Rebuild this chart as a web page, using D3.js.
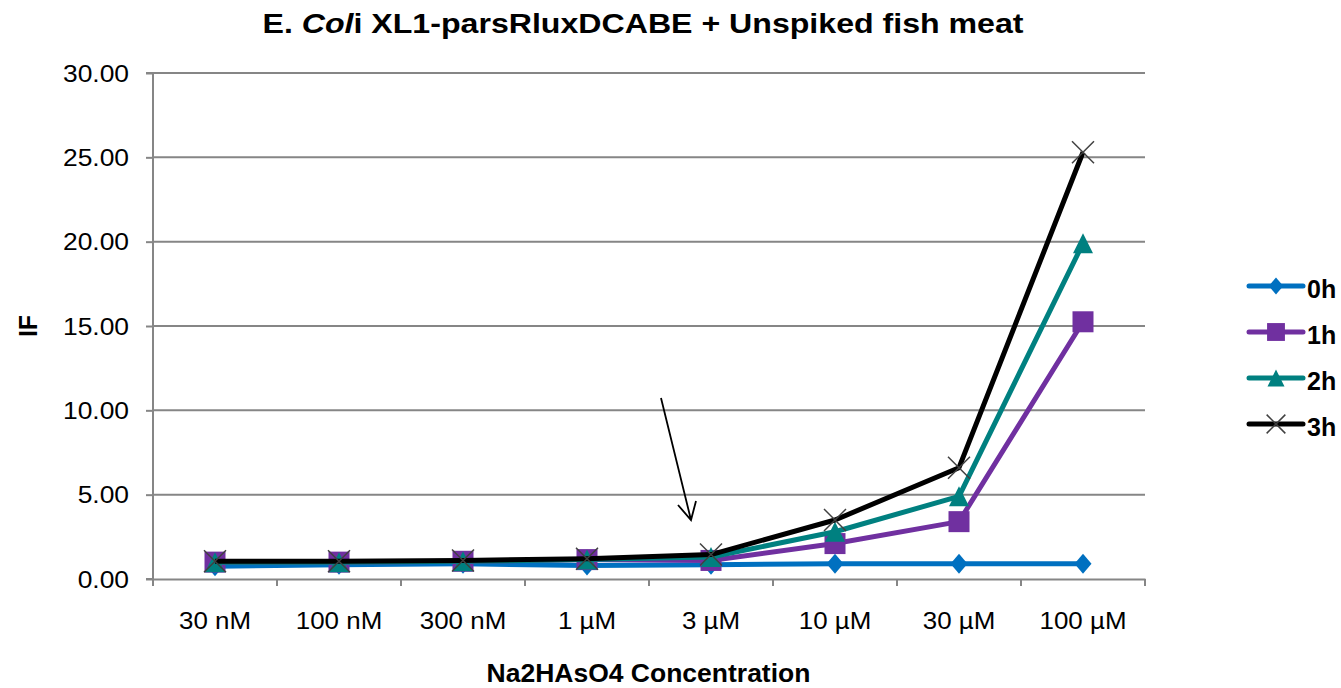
<!DOCTYPE html>
<html><head><meta charset="utf-8">
<script src="https://cdn.jsdelivr.net/npm/d3@7"></script>
<style>body{margin:0;background:#fff}svg{display:block}text{font-family:"Liberation Sans",Arial,sans-serif;fill:#000}</style>
</head><body><svg id="c" width="1341" height="688"></svg>
<script>
const categories = ["30 nM","100 nM","300 nM","1 µM","3 µM","10 µM","30 µM","100 µM"];
const s0h = [0.75,0.85,0.9,0.8,0.85,0.9,0.9,0.9];
const s1h = [1.0,1.0,1.05,1.15,1.1,2.1,3.4,15.25];
const s2h = [1.0,1.0,1.05,1.15,1.3,2.8,4.9,19.9];
const s3h = [1.05,1.05,1.1,1.2,1.45,3.5,6.6,25.3];
const seriesNames = ["0h","1h","2h","3h"];
const yTicks = [0,5,10,15,20,25,30];

const series = [
  {name:seriesNames[0], values:s0h, color:"#0070C0", marker:"diamond"},
  {name:seriesNames[1], values:s1h, color:"#7030A0", marker:"square"},
  {name:seriesNames[2], values:s2h, color:"#008080", marker:"triangle"},
  {name:seriesNames[3], values:s3h, color:"#000000", marker:"x"}
];

const svg = d3.select("#c");
const L=153, R=1145, T=73, B=579;
const x = d3.scaleBand().domain(categories).range([L,R]);
const y = d3.scaleLinear().domain([0,30]).range([B,T]);
const fmt = d3.format(".2f");

function label(g, px, py, str, size, sx, anchor, weight){
  return g.append("text").attr("transform",`translate(${px},${py}) scale(${sx},1)`)
    .attr("text-anchor",anchor).attr("font-size",size).attr("font-weight",weight||"normal").text(str);
}

// gridlines
svg.append("g").selectAll("line").data(yTicks.filter(d=>d>0)).join("line")
  .attr("x1",L).attr("x2",R).attr("y1",d=>y(d)).attr("y2",d=>y(d))
  .attr("stroke","#868686").attr("stroke-width",2);

// y axis
const ya = svg.append("g").attr("transform",`translate(${L},0)`)
  .call(d3.axisLeft(y).tickValues(yTicks).tickFormat("").tickSize(7));
ya.select(".domain").attr("stroke","#868686").attr("stroke-width",2).attr("d",`M-7,${T}H0V${B}H-7`);
ya.selectAll(".tick line").attr("stroke","#868686").attr("stroke-width",2);
const yl = svg.append("g");
yTicks.forEach(t=>label(yl,129,y(t)+8.5,fmt(t),24,1.1,"end"));

// x axis
const xa = svg.append("g").attr("transform",`translate(0,${B})`)
  .call(d3.axisBottom(x).tickSize(0).tickFormat(""));
xa.select(".domain").attr("stroke","#868686").attr("stroke-width",2);
const bounds = categories.map(c=>x(c)).concat([R]);
xa.append("g").selectAll("line").data(bounds).join("line")
  .attr("x1",d=>d).attr("x2",d=>d).attr("y1",0).attr("y2",7)
  .attr("stroke","#868686").attr("stroke-width",2);

const cx = c => x(c)+x.bandwidth()/2;
const xl = svg.append("g");
categories.forEach(c=>label(xl,cx(c),629,c,24,1.08,"middle"));

function drawMarker(g, type, color, px, py, k){
  k = k||1;
  if(type==="diamond"){
    const w=8.5*k,h=10*k;
    g.append("path").attr("d",`M${px},${py-h}L${px+w},${py}L${px},${py+h}L${px-w},${py}Z`).attr("fill",color);
  } else if(type==="square"){
    const s=10.5*k;
    g.append("rect").attr("x",px-s).attr("y",py-s).attr("width",2*s).attr("height",2*s).attr("fill",color);
  } else if(type==="triangle"){
    const s=10*k;
    g.append("path").attr("d",`M${px},${py-s}L${px+s},${py+s}L${px-s},${py+s}Z`).attr("fill",color);
  } else {
    const s=11*k;
    g.append("path").attr("d",`M${px-s},${py-s}L${px+s},${py+s}M${px-s},${py+s}L${px+s},${py-s}`)
      .attr("stroke","#404040").attr("stroke-width",1.5).attr("fill","none");
  }
}

const line = d3.line().x((d,i)=>cx(categories[i])).y(d=>y(d));
series.forEach(s=>{
  const g = svg.append("g");
  g.append("path").attr("d",line(s.values)).attr("fill","none").attr("stroke",s.color).attr("stroke-width",5).attr("stroke-linejoin","round");
  s.values.forEach((v,i)=>drawMarker(g,s.marker,s.color,cx(categories[i]),y(v)));
});

// arrow annotation
svg.append("path").attr("d","M661,398L691,520M678,505L691,520L696,501").attr("stroke","#000").attr("stroke-width",1.8).attr("fill","none");

// title
const t = svg.append("text").attr("transform","translate(643,33) scale(1.19,1)").attr("text-anchor","middle").attr("font-size",27).attr("font-weight","bold");
t.append("tspan").text("E. ");
t.append("tspan").attr("font-style","italic").text("Col");
t.append("tspan").text("i XL1-parsRluxDCABE + Unspiked fish meat");

// axis titles
label(svg,648.5,682,"Na2HAsO4 Concentration",25,1.06,"middle","bold");
svg.append("text").attr("transform","translate(37,326) rotate(-90)").attr("text-anchor","middle").attr("font-size",25).attr("font-weight","bold").text("IF");

// legend
const lg = svg.append("g");
series.forEach((s,i)=>{
  const ly = 286 + i*46;
  lg.append("line").attr("x1",1249).attr("x2",1303).attr("y1",ly).attr("y2",ly).attr("stroke",s.color).attr("stroke-width",5).attr("stroke-linecap","round");
  drawMarker(lg,s.marker,s.color,1276,ly,0.85);
  label(lg,1307,ly+12,s.name,25,1.0,"start","bold");
});
</script></body></html>
